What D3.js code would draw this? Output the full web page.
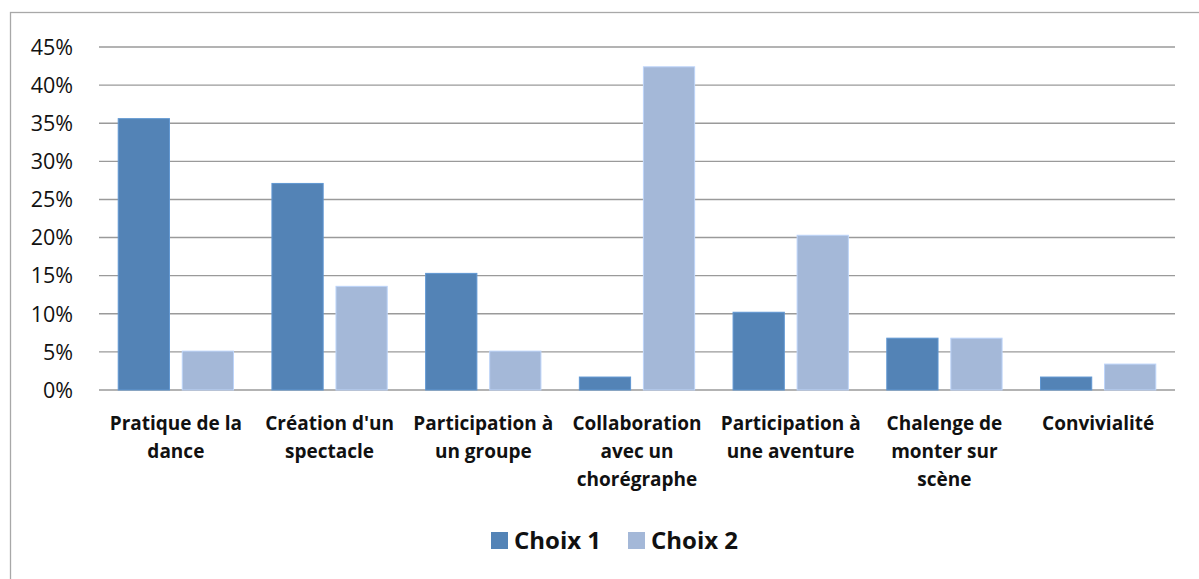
<!DOCTYPE html>
<head>
<meta charset="utf-8">
<script src="https://d3js.org/d3.v7.min.js"></script>
<style>
body {
  margin: 0;
  background: white;
  font-family: 'Open Sans', 'Lato', sans-serif;
}
.grid line {
  stroke: #9a9a9a;
  stroke-width: 1.4;
}
.ylab {
  font-size: 21.5px;
  fill: #111;
}
.xlab {
  font-size: 19px;
  font-weight: bold;
  fill: #111;
}
.leg {
  font-size: 24px;
  font-weight: bold;
  fill: #111;
}
</style>
</head>
<body>
<div id="chart"></div>
<script>

// categories, one entry per line of the wrapped label
var categories = [
  ["Pratique de la", "dance"],
  ["Création d'un", "spectacle"],
  ["Participation à", "un groupe"],
  ["Collaboration", "avec un", "chorégraphe"],
  ["Participation à", "une aventure"],
  ["Chalenge de", "monter sur", "scène"],
  ["Convivialité"]
];

var series = ["Choix 1", "Choix 2"];
var choix1 = [0.356, 0.271, 0.153, 0.017, 0.102, 0.068, 0.017];
var choix2 = [0.051, 0.136, 0.051, 0.424, 0.203, 0.068, 0.034];
var yTicks = [0, 0.05, 0.10, 0.15, 0.20, 0.25, 0.30, 0.35, 0.40, 0.45];

var colors = {"Choix 1": "#5383b6", "Choix 2": "#a4b8d8"};

var W = 1199, H = 579;
var margin = {top: 47, right: 24, bottom: 189, left: 99};
var width = W - margin.left - margin.right,
    height = H - margin.top - margin.bottom;

var svg = d3.select("#chart")
    .append("svg")
    .attr("width", W)
    .attr("height", H);

// outer frame
svg.append("rect")
    .attr("x", 10.5)
    .attr("y", 12.5)
    .attr("width", W + 20)
    .attr("height", H + 20)
    .attr("fill", "none")
    .attr("stroke", "#a8a8a8")
    .attr("stroke-width", 1.3);

var g = svg.append("g")
    .attr("transform", "translate(" + margin.left + "," + margin.top + ")");

var idx = d3.range(categories.length);

var x0 = d3.scaleBand().domain(idx).range([0, width]).padding(0);
var x1 = d3.scaleBand().domain(series).range([0, x0.bandwidth()])
    .paddingInner(0.2).paddingOuter(0.3);
var y = d3.scaleLinear().domain([0, 0.45]).range([height, 0]);

// gridlines
g.append("g")
    .attr("class", "grid")
    .selectAll("line")
    .data(yTicks)
    .enter()
    .append("line")
      .attr("x1", 0)
      .attr("x2", width)
      .attr("y1", function(d) { return y(d); })
      .attr("y2", function(d) { return y(d); });

// y labels
g.selectAll(".ylab")
    .data(yTicks)
    .enter()
    .append("text")
      .attr("class", "ylab")
      .attr("x", -26)
      .attr("y", function(d) { return y(d); })
      .attr("dy", "0.36em")
      .attr("text-anchor", "end")
      .text(d3.format(".0%"));

var rows = idx.map(function(i) {
  return {i: i, values: [
    {key: "Choix 1", value: choix1[i]},
    {key: "Choix 2", value: choix2[i]}
  ]};
});

var groups = g.selectAll(".cat")
    .data(rows)
    .enter()
    .append("g")
      .attr("class", "cat")
      .attr("transform", function(d) { return "translate(" + x0(d.i) + ",0)"; });

groups.selectAll("rect")
    .data(function(d) { return d.values; })
    .enter()
    .append("rect")
      .attr("x", function(d) { return x1(d.key); })
      .attr("y", function(d) { return y(d.value); })
      .attr("width", x1.bandwidth())
      .attr("height", function(d) { return y(0) - y(d.value); })
      .attr("fill", function(d) { return colors[d.key]; })
      .attr("stroke", function(d) { return d3.color(colors[d.key]).brighter(0.4); })
      .attr("stroke-width", 1);

// category labels
groups.append("text")
    .attr("class", "xlab")
    .attr("text-anchor", "middle")
    .attr("transform", "translate(" + (x0.bandwidth() / 2) + "," + (height + 40) + ")")
    .selectAll("tspan")
    .data(function(d) { return categories[d.i]; })
    .enter()
    .append("tspan")
      .attr("x", 0)
      .attr("y", function(d, k) { return k * 28; })
      .text(function(d) { return d; });

// legend
var legend = svg.append("g")
    .attr("transform", "translate(491,532)");

var leg = legend.selectAll(".legitem")
    .data(series)
    .enter()
    .append("g")
      .attr("class", "legitem")
      .attr("transform", function(d, i) { return "translate(" + (i * 137) + ",0)"; });

leg.append("rect")
    .attr("width", 17)
    .attr("height", 17)
    .attr("fill", function(d) { return colors[d]; });

leg.append("text")
    .attr("class", "leg")
    .attr("x", 23)
    .attr("y", 17)
    .text(function(d) { return d; });

</script>
</body>
